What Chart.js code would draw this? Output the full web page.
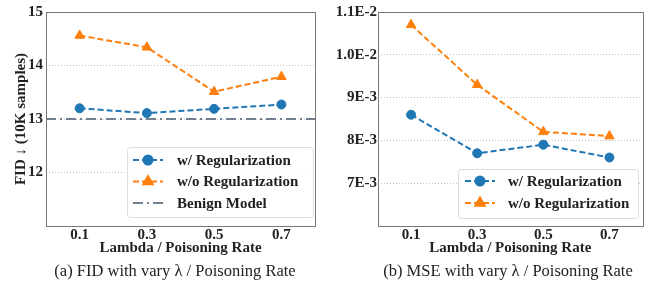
<!DOCTYPE html>
<html>
<head>
<meta charset="utf-8">
<script src="https://cdn.jsdelivr.net/npm/chart.js@4.4.1/dist/chart.umd.min.js"></script>
<style>
  body { margin: 0; background: #fff; }
  #wrap { position: relative; width: 649px; height: 282px; overflow: hidden; }
  .panel { position: absolute; top: 0; height: 262px; }
  .cap { position: absolute; top: 262px; font-family: "Liberation Serif", "Times New Roman", Tinos, "DejaVu Serif", serif; font-size: 16.5px; color: #222; text-align: center; white-space: nowrap; line-height: 18px; }
</style>
</head>
<body>
<div id="wrap">
  <div class="panel" style="left:0; width:330px;"><canvas id="fidChart" width="330" height="262"></canvas></div>
  <div class="panel" style="left:330px; width:319px;"><canvas id="mseChart" width="319" height="262"></canvas></div>
  <div class="cap" style="left:25px; width:300px;">(a) FID with vary λ / Poisoning Rate</div>
  <div class="cap" style="left:358px; width:300px;">(b) MSE with vary λ / Poisoning Rate</div>
</div>
<script>
const rates = [0.1, 0.3, 0.5, 0.7];

const fidWithReg = [13.2, 13.11, 13.19, 13.27];
const fidWithoutReg = [14.56, 14.34, 13.51, 13.79];
const fidBenign = 13.0;
const fidTicks = [12, 13, 14, 15];

const mseWithReg = [0.0086, 0.0077, 0.0079, 0.0076];
const mseWithoutReg = [0.0107, 0.0093, 0.0082, 0.0081];
const mseTicks = [0.007, 0.008, 0.009, 0.010, 0.011];
const mseTickLabels = ['7E-3', '8E-3', '9E-3', '1.0E-2', '1.1E-2'];

const BLUE = '#1f77b4';
const ORANGE = '#ff7f0e';
const SLATE = '#708090';
const TEXT = '#222';
const SERIF = '"Liberation Serif", "Times New Roman", Tinos, "DejaVu Serif", serif';
const serifBold = { family: SERIF, size: 15, weight: 'bold' };

function pts(values) {
    return values.map(function (v, i) { return { x: rates[i], y: v }; });
}

// frame around the plot area
const framePlugin = {
    id: 'frame',
    afterDatasetsDraw(chart) {
        const a = chart.chartArea;
        const ctx = chart.ctx;
        ctx.save();
        ctx.setLineDash([]);
        ctx.strokeStyle = '#777';
        ctx.lineWidth = 1;
        ctx.strokeRect(Math.round(a.left) + 0.5, Math.round(a.top) + 0.5, Math.round(a.right - a.left), Math.round(a.bottom - a.top));
        ctx.restore();
    }
};

// legend box drawn inside the plot, like matplotlib's
const boxLegend = {
    id: 'boxLegend',
    afterDraw(chart, args, opts) {
        const ctx = chart.ctx;
        ctx.save();
        ctx.setLineDash([]);
        ctx.fillStyle = 'rgba(255,255,255,0.9)';
        ctx.strokeStyle = '#dddddd';
        ctx.lineWidth = 1;
        ctx.beginPath();
        ctx.roundRect(opts.x + 0.5, opts.y + 0.5, opts.w, opts.h, 3);
        ctx.fill();
        ctx.stroke();
        chart.data.datasets.forEach(function (ds, i) {
            const y = opts.y + opts.firstRow + i * opts.rowGap;
            const x0 = opts.x + opts.lineX;
            const x1 = x0 + 30;
            ctx.strokeStyle = ds.borderColor;
            ctx.lineWidth = ds.borderWidth;
            ctx.setLineDash(ds.borderDash || []);
            ctx.beginPath();
            ctx.moveTo(x0, y);
            ctx.lineTo(x1, y);
            ctx.stroke();
            ctx.setLineDash([]);
            if (ds.pointRadius > 0) {
                ctx.fillStyle = ds.borderColor;
                ctx.strokeStyle = ds.borderColor;
                Chart.helpers.drawPoint(ctx, { pointStyle: ds.pointStyle, radius: ds.pointRadius, borderWidth: 1 }, (x0 + x1) / 2, y);
            }
            ctx.fillStyle = TEXT;
            ctx.font = 'bold 15px ' + SERIF;
            ctx.textBaseline = 'middle';
            ctx.fillText(ds.label, opts.x + opts.textX, y + 1);
        });
        ctx.restore();
    }
};

function lineSet(label, values, color, style, radius) {
    return {
        label: label,
        data: pts(values),
        borderColor: color,
        backgroundColor: color,
        borderWidth: 2,
        borderDash: [6, 3],
        pointStyle: style,
        pointRadius: radius,
        pointHoverRadius: radius,
        pointBorderWidth: 1,
        fill: false
    };
}

function xScale() {
    return {
        type: 'linear',
        min: 0,
        max: 0.8,
        afterBuildTicks: function (s) { s.ticks = rates.map(function (v) { return { value: v }; }); },
        afterFit: function (s) { s.height = 36; },
        grid: { display: false, drawTicks: false },
        border: { display: false },
        ticks: { color: TEXT, font: serifBold, padding: 0, maxRotation: 0, callback: function (v) { return v.toFixed(1); } },
        title: { display: true, text: 'Lambda / Poisoning Rate', color: TEXT, font: serifBold, padding: { top: 0, bottom: 5 } }
    };
}

const fidCtx = document.getElementById('fidChart').getContext('2d');
new Chart(fidCtx, {
    type: 'line',
    data: {
        datasets: [
            lineSet('w/ Regularization', fidWithReg, BLUE, 'circle', 4.5),
            lineSet('w/o Regularization', fidWithoutReg, ORANGE, 'triangle', 5.5),
            {
                label: 'Benign Model',
                data: [{ x: 0, y: fidBenign }, { x: 0.8, y: fidBenign }],
                borderColor: SLATE,
                backgroundColor: SLATE,
                borderWidth: 2,
                borderDash: [10, 4, 2, 4],
                pointRadius: 0,
                fill: false
            }
        ]
    },
    options: {
        responsive: false,
        animation: false,
        layout: { padding: { left: 0, right: 15, top: 12, bottom: 0 } },
        plugins: {
            legend: { display: false },
            tooltip: { enabled: false },
            boxLegend: { x: 127, y: 147, w: 186, h: 70, firstRow: 13, rowGap: 21.5, lineX: 6, textX: 50 }
        },
        scales: {
            x: xScale(),
            y: {
                min: 11,
                max: 15,
                afterBuildTicks: function (s) { s.ticks = fidTicks.map(function (v) { return { value: v }; }); },
                afterFit: function (s) { s.width = 46; },
                grid: { color: '#c4c4c4', lineWidth: 1, drawTicks: false },
                border: { display: false, dash: [1, 2] },
                ticks: { color: TEXT, font: serifBold, padding: 3 },
                title: { display: true, text: 'FID ↓ (10K samples)', color: TEXT, font: serifBold, padding: 12 }
            }
        }
    },
    plugins: [framePlugin, boxLegend]
});

const mseCtx = document.getElementById('mseChart').getContext('2d');
new Chart(mseCtx, {
    type: 'line',
    data: {
        datasets: [
            lineSet('w/ Regularization', mseWithReg, BLUE, 'circle', 4.5),
            lineSet('w/o Regularization', mseWithoutReg, ORANGE, 'triangle', 5.5)
        ]
    },
    options: {
        responsive: false,
        animation: false,
        layout: { padding: { left: 0, right: 3, top: 12, bottom: 0 } },
        plugins: {
            legend: { display: false },
            tooltip: { enabled: false },
            boxLegend: { x: 128, y: 169, w: 180, h: 49, firstRow: 12, rowGap: 22, lineX: 7, textX: 50 }
        },
        scales: {
            x: xScale(),
            y: {
                min: 0.006,
                max: 0.011,
                afterBuildTicks: function (s) { s.ticks = mseTicks.map(function (v) { return { value: v }; }); },
                afterFit: function (s) { s.width = 48; },
                grid: { color: '#c4c4c4', lineWidth: 1, drawTicks: false },
                border: { display: false, dash: [1, 2] },
                ticks: { color: TEXT, font: serifBold, padding: 1, callback: function (v, i) { return mseTickLabels[i]; } }
            }
        }
    },
    plugins: [framePlugin, boxLegend]
});
</script>
</body>
</html>
